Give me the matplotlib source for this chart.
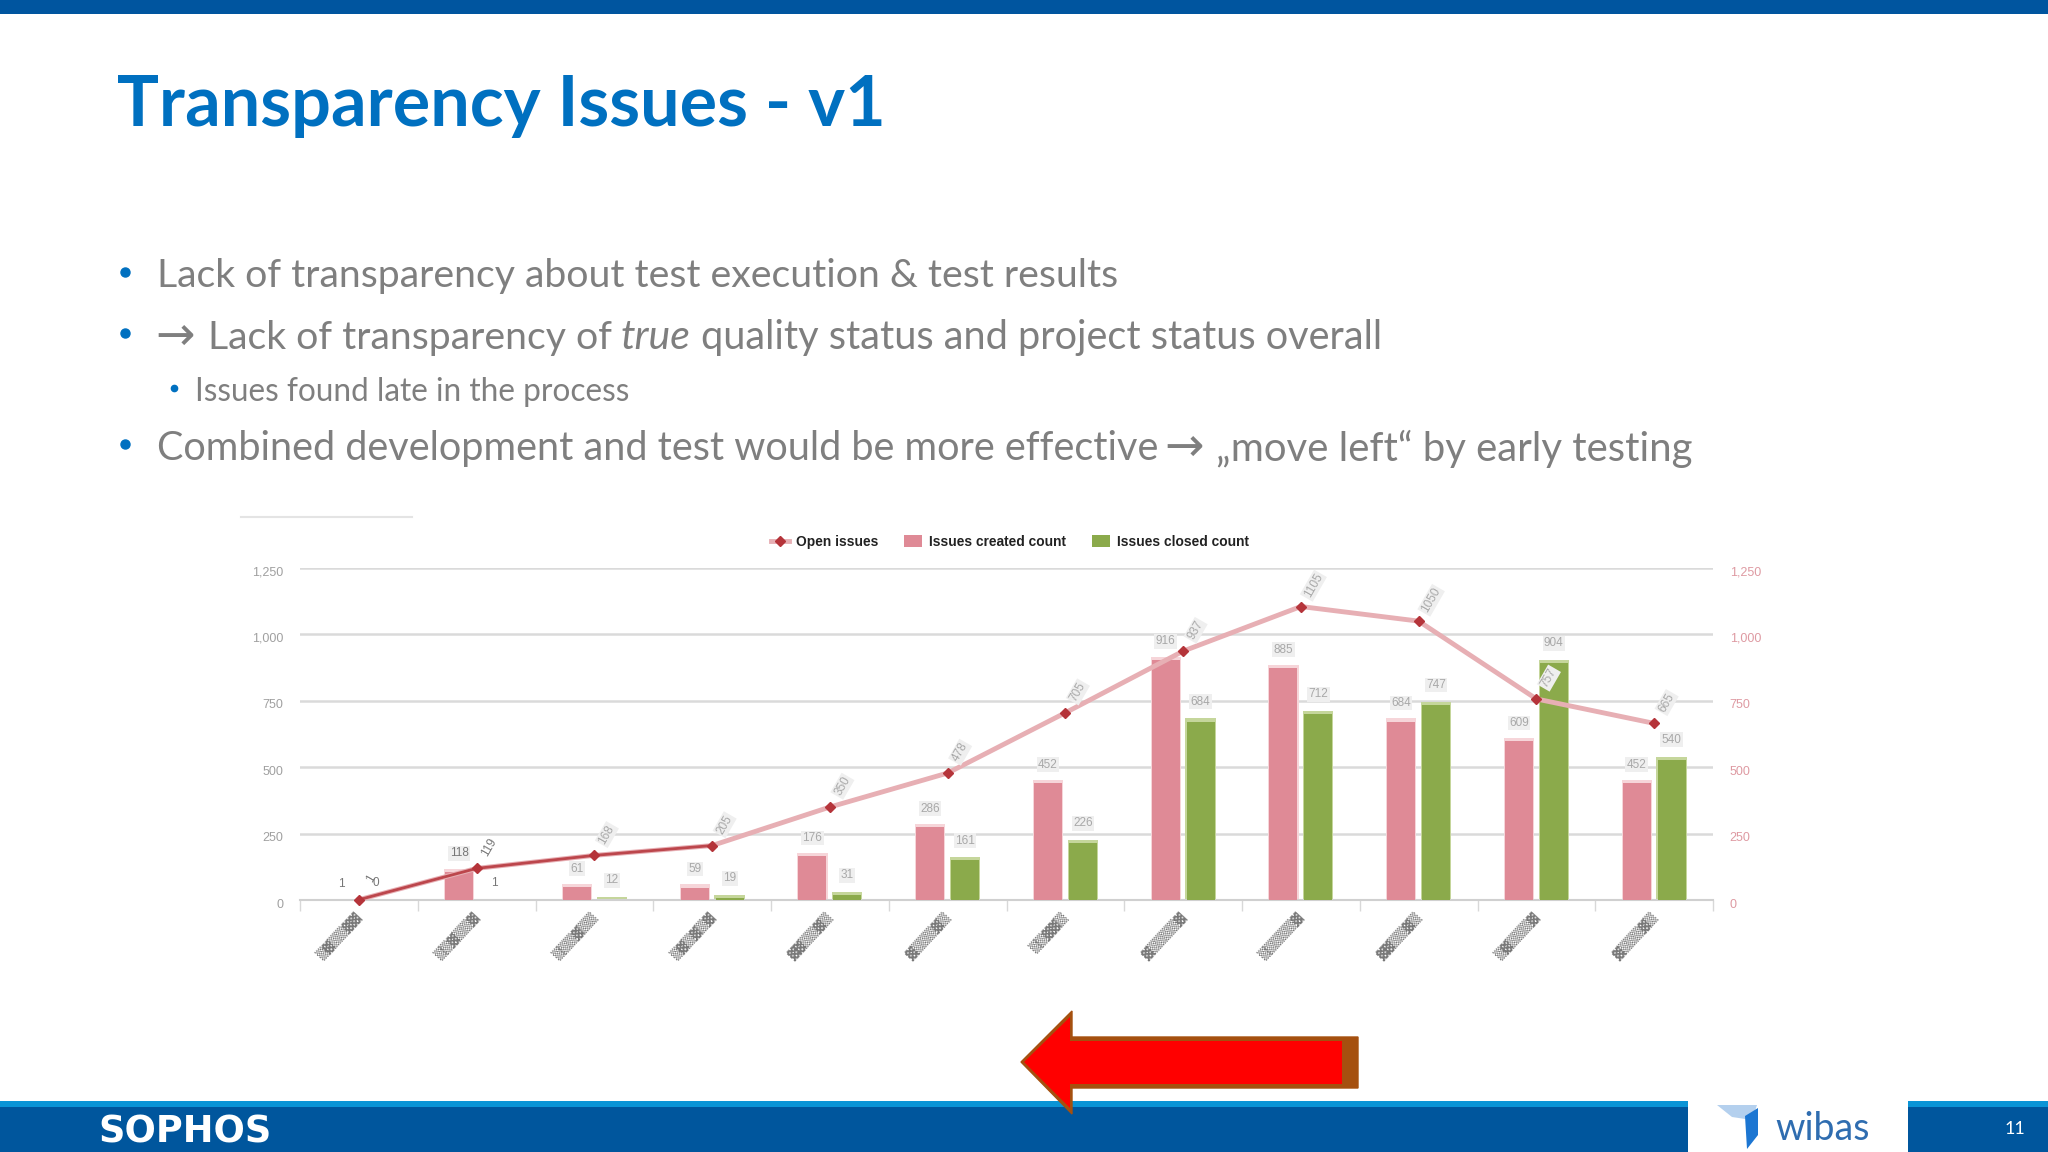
import matplotlib
matplotlib.use("Agg")
import matplotlib.pyplot as plt
from matplotlib.patches import Polygon, Rectangle
from matplotlib.transforms import ScaledTranslation
import numpy as np

# values (x labels are unreadable in the source, so just blocks)
x_labels = ["▒▓▒▒▓▓", "▒▒▓▒▒▓", "▒▒▒▓▒▒", "▒▓▒▓▒▓", "▓▓▒▒▓▒", "▓▒▒▒▓▒",
            "▒▒▓▓▒", "▓▒▒▒▒▓", "▒▒▒▒▒▓", "▓▓▒▒▓▒", "▒▓▒▒▒▓", "▓▒▒▒▓▒"]
open_issues = [1, 119, 168, 205, 350, 478, 705, 937, 1105, 1050, 757, 665]
created = [1, 118, 61, 59, 176, 286, 452, 916, 885, 684, 609, 452]
closed = [0, 1, 12, 19, 31, 161, 226, 684, 712, 747, 904, 540]
y_ticks = [0, 250, 500, 750, 1000, 1250]
y_tick_labels = ["0", "250", "500", "750", "1,000", "1,250"]

title = "Transparency Issues - v1"
line1 = "Lack of transparency about test execution & test results"
line3 = "Issues found late in the process"

BLUE = "#0070C0"
GREY = "#7F7F7F"
PINK = "#DF8A96"
GREEN = "#8BAA4B"
RED = "#B5343A"

W, H = 2048, 1152
fig = plt.figure(figsize=(20.48, 11.52), dpi=100)

# slide background in pixel coords
bg = fig.add_axes([0, 0, 1, 1], zorder=0)
bg.set_xlim(0, W)
bg.set_ylim(H, 0)
bg.axis("off")


def body(x, y, txt, size=28.3, style="normal"):
    bg.text(x, y, txt, fontsize=size, color=GREY, va="center_baseline", style=style, family="Lato")


def arrow(x, y):
    bg.text(x, y, "→", fontsize=34, color=GREY, va="center_baseline", family="DejaVu Sans")


bg.add_patch(Rectangle((0, 0), W, 14, color="#00559F", lw=0))
bg.add_patch(Rectangle((0, 1101), W, 6, color="#0A94D6", lw=0))
bg.add_patch(Rectangle((0, 1107), W, 45, color="#00569D", lw=0))
bg.add_patch(Rectangle((1688, 1093), 220, 59, color="white", lw=0))

bg.text(117, 100, title, fontsize=50.5, fontweight="bold", color=BLUE, family="Lato", va="center_baseline")

for y in [272, 333, 444]:
    bg.plot([125], [y], "o", color=BLUE, ms=6.5)
bg.plot([174], [388], "o", color=BLUE, ms=4.5)

body(157, 273, line1)
arrow(155, 332)
body(208, 334, "Lack of transparency of")
body(620, 334, "true", size=29.5, style="italic")
body(701, 334, "quality status and project status overall", size=28.6)
body(195, 389, line3, size=22.7)
body(157, 445, "Combined development and test would be more effective", size=28.5)
arrow(1164, 443)
body(1216, 445, "„move left“ by early testing", size=28.9)

# faint rule above the chart
bg.plot([241, 412], [517, 517], color="#E4E4E4", lw=1.5)

# red arrow
bg.add_patch(Polygon([(1021, 1062), (1072, 1011), (1072, 1037), (1358, 1037), (1358, 1088),
                      (1072, 1088), (1072, 1114)], closed=True, fc="#A5500F", ec="#A5500F", lw=1, zorder=5))
bg.add_patch(Polygon([(1024, 1062), (1070, 1017), (1070, 1041), (1342, 1041), (1342, 1084),
                      (1070, 1084), (1070, 1108)], closed=True, fc="#FF0000", ec="none", zorder=6))

# footer text + logo
bg.text(98, 1128, "SOPHOS", fontsize=26.5, fontweight="bold", color="white", family="DejaVu Sans",
        va="center_baseline")
bg.text(2015, 1128, "11", fontsize=13, color="white", family="Lato", ha="center", va="center_baseline")
bg.add_patch(Polygon([(1717, 1105), (1757, 1105), (1752, 1120), (1732, 1117)], closed=True, fc="#B4D0EE", ec="none"))
bg.add_patch(Polygon([(1745, 1116), (1758, 1108), (1758, 1135), (1747, 1149)], closed=True, fc="#1C76D2", ec="none"))
bg.text(1775, 1125, "wibas", fontsize=27, color="#2F6DB0", family="Lato", va="center_baseline")

# chart
ax = fig.add_axes([300 / W, 1 - 900 / H, 1413 / W, 332 / H], zorder=1)
ax.patch.set_visible(False)
x = np.arange(len(created))
bw = 0.238
off = 0.148

ax.bar(x - off, created, bw + 0.02, color="#F6D5D9", zorder=2, label="_halo")
ax.bar(x + off, closed, bw + 0.02, color="#C5D69B", zorder=2, label="_halo")
c_bars = ax.bar(x - off, np.maximum(np.array(created) - 12, 0), bw, color=PINK, zorder=3, label="Issues created count")
g_bars = ax.bar(x + off, np.maximum(np.array(closed) - 12, 0), bw, color=GREEN, zorder=3, label="Issues closed count")
ln, = ax.plot(x, open_issues, color="#E7AFB4", lw=3.5, marker="D", ms=5.5, mfc=RED, mec=RED, zorder=4,
              label="Open issues", clip_on=False)
ax.plot(x[:4], open_issues[:4], color=RED, lw=2, zorder=4, alpha=0.85)

lab = dict(fontsize=8.5, ha="center", va="center", textcoords="offset points", zorder=5,
           family="Liberation Sans")
box = dict(boxstyle="square,pad=0.12", fc="#EFEFEF", ec="none")
for i in x:
    c = "#777777" if i < 2 else "#A8A8A8"
    ax.annotate(str(created[i]), (i - off, created[i]), xytext=(0, 11), color=c, bbox=box if i > 0 else None, **lab)
    ax.annotate(str(closed[i]), (i + off, closed[i]), xytext=(0, 12), color=c, bbox=box if i > 1 else None, **lab)
    ax.annotate(str(open_issues[i]), (i, open_issues[i]), xytext=(9, 15), rotation=60, color=c,
                bbox=box if i > 1 else None, **lab)

ax.set_xlim(-0.5, 11.5)
ax.set_ylim(0, 1250)
ax.set_yticks(y_ticks)
ax.set_yticklabels(y_tick_labels, fontsize=9, color="#A0A0A0", family="Liberation Sans")
ax.tick_params(axis="y", length=0, pad=12)
ax.grid(axis="y", color="#DADADA", lw=1.8, zorder=1)
ax.set_axisbelow(True)
for s in ["top", "left", "right"]:
    ax.spines[s].set_visible(False)
ax.spines["bottom"].set_color("#D0D0D0")
ax.spines["bottom"].set_linewidth(1.5)

# ticks between categories
ax.set_xticks(np.arange(-0.5, 12, 1))
ax.set_xticklabels([])
ax.tick_params(axis="x", length=8, color="#D8D8D8", width=1)
ax.set_xticks(x, minor=True)
ax.set_xticklabels(x_labels, minor=True, rotation=47, ha="right", va="center", rotation_mode="anchor",
                   fontsize=9, color="#777777", family="DejaVu Sans")
ax.tick_params(axis="x", which="minor", length=0, pad=11)

ax2 = ax.twinx()
ax2.set_ylim(0, 1250)
ax2.set_yticks(y_ticks)
ax2.set_yticklabels(y_tick_labels, fontsize=9, color="#DE9AA2", family="Liberation Sans")
ax2.tick_params(axis="y", length=0, pad=12)
ax2.patch.set_visible(False)
for s in ax2.spines.values():
    s.set_visible(False)

# tick labels sit a little under the grid lines
shift = ScaledTranslation(0, -3 / 100, fig.dpi_scale_trans)
for t in ax.get_yticklabels() + ax2.get_yticklabels():
    t.set_transform(t.get_transform() + shift)

leg = ax.legend(handles=[ln, c_bars, g_bars], ncol=3, loc="center", bbox_to_anchor=(1010 / W, 1 - 542 / H),
                bbox_transform=fig.transFigure, frameon=False, labelcolor="#222222",
                prop={"family": "Liberation Sans", "weight": "bold", "size": 9.9},
                handlelength=1.3, handleheight=1.0, handletextpad=0.5, columnspacing=1.9, borderpad=0)

fig.savefig("out.png", dpi=100)
